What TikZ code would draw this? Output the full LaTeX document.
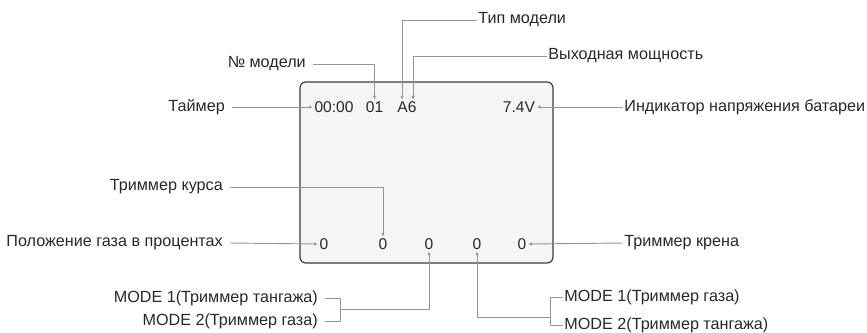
\documentclass[tikz,border=0pt]{standalone}
\usepackage{fontspec}
\setmainfont{Liberation Sans}
\usetikzlibrary{arrows.meta, calc}
\definecolor{osdline}{RGB}{150,150,150}
\definecolor{osdtext}{RGB}{40,40,40}
\definecolor{osdframe}{RGB}{60,60,60}
\definecolor{osdfill}{RGB}{245,245,245}
\tikzset{
    screen/.style={draw=osdframe, fill=osdfill, rounded corners=5pt, line width=1pt},
    lbl/.style={font=\fontsize{13.8}{16}\selectfont, text=osdtext, inner xsep=6pt, inner ysep=1pt},
    lblr/.style={lbl, inner xsep=1pt},
    val/.style={font=\fontsize{13.3}{16}\selectfont, text=osdtext, inner sep=1.5pt},
    conn/.style={draw=osdline, line width=0.8pt},
    arr/.style={conn, -{Latex[length=3pt, width=3pt]}}
}
\begin{document}
\begin{tikzpicture}[x=0.3mm, y=-0.3mm]
    \useasboundingbox (0,0) rectangle (867,333);
    \draw[screen] (300,82) rectangle (553,263);
    % screen values
    \node[val] (vTime) at (334,107) {00:00};
    \node[val] (vModel) at (374.5,107) {01};
    \node[val] (vType) at (407,107) {A6};
    \node[val] (vVolt) at (519,107) {7.4V};
    \node[val] (vThr) at (324,244) {0};
    \node[val] (vYaw) at (383,244) {0};
    \node[val] (vTrimA) at (429,244) {0};
    \node[val] (vTrimB) at (477,244) {0};
    \node[val] (vRoll) at (522,244) {0};
    % labels
    \node[lbl, anchor=east] (lTimer) at (232,107) {Таймер};
    \node[lbl, anchor=east] (lModelNo) at (313,64) {№ модели};
    \node[lblr, anchor=west] (lType) at (477,20) {Тип модели};
    \node[lblr, anchor=west] (lPower) at (547,56) {Выходная мощность};
    \node[lblr, anchor=west] (lVolt) at (623,107) {Индикатор напряжения батареи};
    \node[lbl, anchor=east] (lYaw) at (230,187) {Триммер курса};
    \node[lbl, anchor=east] (lThr) at (230,243) {Положение газа в процентах};
    \node[lblr, anchor=west] (lRoll) at (623,243) {Триммер крена};
    \node[lbl, anchor=east] (mA1) at (325,298) {MODE 1(Триммер тангажа)};
    \node[lbl, anchor=east] (mA2) at (325,321) {MODE 2(Триммер газа)};
    \node[lblr, anchor=west] (mB1) at (563,297) {MODE 1(Триммер газа)};
    \node[lblr, anchor=west] (mB2) at (563,325) {MODE 2(Триммер тангажа)};
    % connectors
    \draw[arr] (lTimer.east) -- (vTime.west);
    \draw[arr] (lModelNo.east) -| (vModel.north);
    \draw[arr] (lType.west) -| ($(vType.north)+(-5,0)$);
    \draw[arr] (lPower.west) -| ($(vType.north)+(6,0)$);
    \draw[arr] (lVolt.west) -- (vVolt.east);
    \draw[arr] (lYaw.east) -| (vYaw.north);
    \draw[arr] (lThr.east) -- (vThr.west);
    \draw[arr] (lRoll.west) -- (vRoll.east);
    \draw[conn] (mA1.east) -- ++(15,0) |- (mA2.east);
    \coordinate (brA) at (340,309);
    \draw[arr] (brA) -| (vTrimA.south);
    \draw[conn] (mB1.west) -- ++(-13,0) |- (mB2.west);
    \coordinate (brB) at (550,317);
    \draw[arr] (brB) -| (vTrimB.south);
\end{tikzpicture}
\end{document}
